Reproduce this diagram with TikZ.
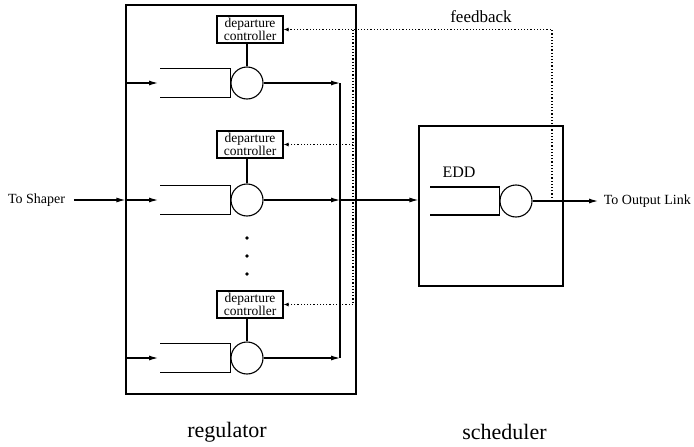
\documentclass[tikz,border=0pt]{standalone}
\usepackage{fontspec}
\setmainfont{Liberation Serif}
\usepackage{tikz}
\usetikzlibrary{arrows.meta, positioning}

\begin{document}
\begin{tikzpicture}[x=1pt, y=-1pt, line width=1.1pt,
  every node/.style={font=\fontsize{14}{16}\selectfont},
  ctrl/.style={draw, minimum width=66pt, minimum height=27pt, inner sep=1pt,
    align=center, font=\fontsize{13.5}{11.5}\selectfont},
  server/.style={draw, circle, minimum size=32pt, inner sep=0pt},
  frame/.style={draw, inner sep=0pt},
  flow/.style={-{Latex[length=9pt,width=5pt]}},
  fb/.style={dotted, line width=1.2pt, -{Latex[length=5pt,width=4pt]}}]
  \useasboundingbox (0,0) rectangle (694,447);
  % ---------- REGULATOR ----------
  \node[frame, minimum width=230pt, minimum height=389pt] (reg) at (241,199.5) {};
  \foreach \i/\y/\c in {1/83/29.5, 2/200/144.5, 3/358/304.5} {
    \node[server] (srv\i) at (247,\y) {};
    \node[ctrl] (dc\i) at (250,\c) {departure\\controller};
    \draw (dc\i.south -| srv\i) -- (srv\i);
    \draw ([shift={(-70pt,14.5pt)}]srv\i.west) -- ([yshift=14.5pt]srv\i.west)
      -- ([yshift=-14.5pt]srv\i.west) -- ([shift={(-70pt,-14.5pt)}]srv\i.west);
    \coordinate (in\i) at (158,\y);
    \coordinate (col\i) at (340,\y);
    \draw[flow] (reg.west |- srv\i) -- (in\i);
    \draw[flow] (srv\i) -- (col\i);
  }
  \draw (col1) -- (col3);
  \foreach \y in {238,256,274} \fill (247,\y) circle (1.9pt);
  \node (shaper) at (36.5,200) {To Shaper};
  \draw[flow] ([xshift=5pt]shaper.east) -- (reg.west |- shaper);
  \node[font=\fontsize{22}{24}\selectfont] (reglbl) at (227,432) {regulator};
  % ---------- SCHEDULER ----------
  \node[frame, minimum width=144pt, minimum height=160pt] (sch) at (491,206) {};
  \draw[flow] (col2) -- (sch.west |- col2);
  \node[server] (edd) at (516,201) {};
  \draw ([shift={(-69pt,14pt)}]edd.west) -- ([yshift=14pt]edd.west)
    -- ([yshift=-14pt]edd.west) -- ([shift={(-69pt,-14pt)}]edd.west);
  \node[font=\fontsize{16}{18}\selectfont] (eddlbl) at (459,172) {EDD};
  \coordinate (tap) at (552,201);
  \coordinate (out) at (598,201);
  \draw[flow] (edd) -- (out);
  \node[right=2pt of out] (outlbl) {To Output Link};
  \node[font=\fontsize{22}{24}\selectfont] (schlbl) at (504.5,432) {scheduler};
  % ---------- FEEDBACK ----------
  \coordinate (bus) at (353,29.5);
  \draw[fb] (tap) |- (dc1.east);
  \draw[dotted, line width=1.2pt] (bus) -- (bus |- dc3.east);
  \draw[fb] (bus |- dc2.east) -- (dc2.east);
  \draw[fb] (bus |- dc3.east) -- (dc3.east);
  \node[font=\fontsize{17}{19}\selectfont] (fblbl) at (481,17) {feedback};
\end{tikzpicture}
\end{document}
